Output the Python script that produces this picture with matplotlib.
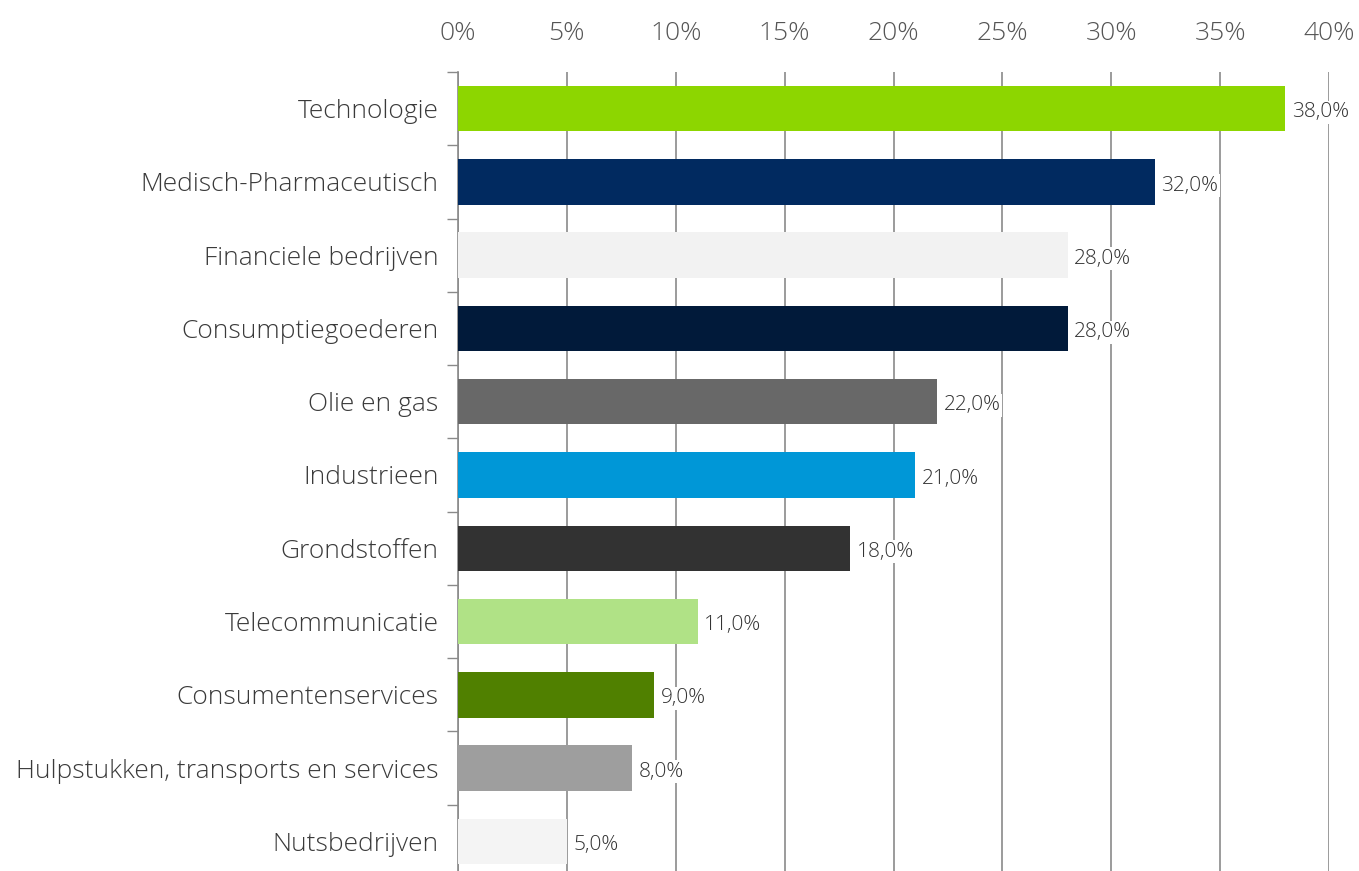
import matplotlib.pyplot as plt
import numpy as np

categories = ["Technologie", "Medisch-Pharmaceutisch", "Financiele bedrijven",
              "Consumptiegoederen", "Olie en gas", "Industrieen", "Grondstoffen",
              "Telecommunicatie", "Consumentenservices",
              "Hulpstukken, transports en services", "Nutsbedrijven"]
values = [38.0, 32.0, 28.0, 28.0, 22.0, 21.0, 18.0, 11.0, 9.0, 8.0, 5.0]
colors = ["#8dd600", "#012a60", "#f2f2f2", "#011a3a", "#686868", "#0097d7",
          "#323232", "#b0e286", "#508000", "#9e9e9e", "#f4f4f4"]
xticks = [0, 5, 10, 15, 20, 25, 30, 35, 40]

plt.rcParams['font.family'] = ['Open Sans', 'DejaVu Sans']

fig = plt.figure(figsize=(13.59, 8.71), dpi=100)
ax = fig.add_axes([458 / 1359, 1 - 878 / 871, (1329 - 458) / 1359, 806 / 871])

y = np.arange(len(categories))
ax.barh(y, values, height=0.62, color=colors, zorder=3)

ax.set_xlim(0, 40)
ax.set_ylim(len(categories) - 0.5, -0.5)
ax.set_xticks(xticks)
ax.set_xticklabels([f"{t}%" for t in xticks], fontsize=19, color="#555555",
                   fontweight="light")
ax.xaxis.tick_top()
ax.tick_params(axis="x", length=0, pad=19)
ax.grid(axis="x", color="#8a8a8a", linewidth=1.2, zorder=0)

ax.set_yticks(y)
ax.set_yticklabels(categories, fontsize=19, color="#3a3a3a", fontweight="light")
ax.set_yticks(np.arange(len(categories) + 1) - 0.5, minor=True)
ax.tick_params(axis="y", which="major", length=0, pad=14)
ax.tick_params(axis="y", which="minor", length=8, width=1, color="#8a8a8a")

for s in ["top", "right", "bottom"]:
    ax.spines[s].set_visible(False)
ax.spines["left"].set_color("#8a8a8a")
ax.spines["left"].set_linewidth(1.2)

for yi, v in zip(y, values):
    ax.text(v + 0.3, yi + 0.05, f"{v:.1f}%".replace(".", ","), va="center", ha="left",
            fontsize=15, color="#333333", fontweight="light", zorder=4,
            bbox=dict(facecolor="white", edgecolor="none", pad=1))

fig.savefig("out.png", dpi=100)
